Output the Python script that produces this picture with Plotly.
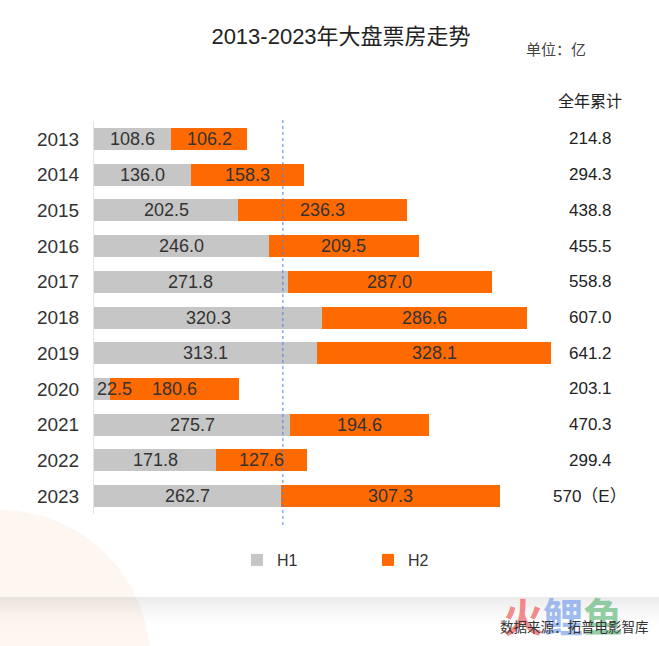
import plotly.graph_objects as go

years = ["2013", "2014", "2015", "2016", "2017", "2018", "2019", "2020", "2021", "2022", "2023"]
h1 = [108.6, 136.0, 202.5, 246.0, 271.8, 320.3, 313.1, 22.5, 275.7, 171.8, 262.7]
h2 = [106.2, 158.3, 236.3, 209.5, 287.0, 286.6, 328.1, 180.6, 194.6, 127.6, 307.3]
totals = ["214.8", "294.3", "438.8", "455.5", "558.8", "607.0", "641.2", "203.1", "470.3", "299.4", "570（E）"]
ref_line = 265

GRAY = "#c6c6c6"
ORANGE = "#ff6a00"
NUM_FONT = "Liberation Sans, Arial, Noto Sans CJK SC"
CJK_FONT = "Noto Sans CJK SC, Liberation Sans"

W, H = 659, 646
ML, MR, MT, MB = 94, 65, 121, 132
PW = W - ML - MR
PH = H - MT - MB
SCALE = 0.7127
XMAX = PW / SCALE

fig = go.Figure()
fig.add_trace(go.Bar(name="H1", y=years, x=h1, orientation="h", marker=dict(color=GRAY, line=dict(width=0)),
                     hoverinfo="x"))
fig.add_trace(go.Bar(name="H2", y=years, x=h2, orientation="h", marker=dict(color=ORANGE, line=dict(width=0)),
                     hoverinfo="x"))

def px_to_paper_x(px):
    return (px - ML) / PW

def py_to_paper_y(py):
    return (H - MB - py) / PH

annotations = []
for i, (yr, a, b, t) in enumerate(zip(years, h1, h2, totals)):
    if a < 50:
        annotations.append(dict(x=0, y=i, xref="x", yref="y", text=f"{a:.1f}", showarrow=False,
                                xanchor="left", yanchor="middle", xshift=1,
                                font=dict(size=18, color="#333", family=NUM_FONT)))
    else:
        annotations.append(dict(x=a / 2, y=i, xref="x", yref="y", text=f"{a:.1f}", showarrow=False,
                                xanchor="center", yanchor="middle",
                                font=dict(size=18, color="#333", family=NUM_FONT)))
    annotations.append(dict(x=a + b / 2, y=i, xref="x", yref="y", text=f"{b:.1f}", showarrow=False,
                            xanchor="center", yanchor="middle",
                            font=dict(size=18, color="#333", family=NUM_FONT)))
    annotations.append(dict(x=px_to_paper_x(590), y=i, xref="paper", yref="y", text=t, showarrow=False,
                            xanchor="center", yanchor="middle",
                            font=dict(size=17, color="#222", family=NUM_FONT + ", " + CJK_FONT)))

annotations.append(dict(x=px_to_paper_x(590), y=py_to_paper_y(100), xref="paper", yref="paper", text="全年累计",
                        showarrow=False, xanchor="center", yanchor="middle",
                        font=dict(size=16, color="#222", family=CJK_FONT)))
annotations.append(dict(x=px_to_paper_x(556), y=py_to_paper_y(49), xref="paper", yref="paper", text="单位：亿",
                        showarrow=False, xanchor="center", yanchor="middle",
                        font=dict(size=15, color="#444", family=CJK_FONT)))
# watermark
annotations.append(dict(x=px_to_paper_x(563), y=py_to_paper_y(615), xref="paper", yref="paper",
                        text='<b><span style="color:rgba(240,90,90,0.7)">火</span>'
                             '<span style="color:rgba(120,160,235,0.7)">鲤</span>'
                             '<span style="color:rgba(100,185,125,0.7)">鱼</span></b>',
                        showarrow=False, xanchor="center", yanchor="middle",
                        font=dict(size=40, family=CJK_FONT)))
annotations.append(dict(x=px_to_paper_x(651), y=py_to_paper_y(626), xref="paper", yref="paper",
                        text="数据来源：拓普电影智库", xanchor="right", yanchor="middle", showarrow=False,
                        font=dict(size=13.5, color="#333", family=CJK_FONT)))

shapes = []
# faint peach circle bottom-left
shapes.append(dict(type="circle", xref="paper", yref="paper", layer="below",
                   x0=px_to_paper_x(-150), x1=px_to_paper_x(150),
                   y0=py_to_paper_y(810), y1=py_to_paper_y(510),
                   fillcolor="#fdf6f1", line=dict(width=0)))
# card shadow (stacked strips)
for k in range(10):
    shapes.append(dict(type="rect", xref="paper", yref="paper", layer="below",
                       x0=px_to_paper_x(-5), x1=px_to_paper_x(W + 5),
                       y0=py_to_paper_y(597 + 3 * (k + 1)), y1=py_to_paper_y(597 + 3 * k),
                       fillcolor="rgba(0,0,0,%.3f)" % (0.075 * (1 - k / 10) ** 1.5), line=dict(width=0)))
# dashed reference line
shapes.append(dict(type="line", xref="x", yref="paper", x0=ref_line, x1=ref_line,
                   y0=py_to_paper_y(525), y1=py_to_paper_y(120),
                   line=dict(color="#4f86e0", width=1, dash="3px,3px")))

fig.update_layout(
    width=W, height=H,
    margin=dict(l=ML, r=MR, t=MT, b=MB, autoexpand=False),
    barmode="stack", bargap=0.384,
    paper_bgcolor="white", plot_bgcolor="rgba(0,0,0,0)",
    title=dict(text="2013-2023年大盘票房走势", x=341 / W, xanchor="center", xref="container",
               y=1 - 36 / H, yanchor="middle", yref="container",
               font=dict(size=22, color="#222", family=NUM_FONT + ", " + CJK_FONT)),
    xaxis=dict(range=[0, XMAX], visible=False, fixedrange=True),
    yaxis=dict(type="category", categoryorder="array", categoryarray=years,
               range=[len(years) - 0.5, -0.5], showline=True, linecolor="#e4e4e4", linewidth=1,
               showgrid=False, ticks="", ticklabelstandoff=10, fixedrange=True,
               tickfont=dict(size=19, color="#333", family=NUM_FONT)),
    legend=dict(orientation="h", xref="container", yref="container", x=237 / W, y=1 - 560 / H,
                xanchor="left", yanchor="middle", entrywidth=86, entrywidthmode="pixels",
                traceorder="normal",
                font=dict(size=16, color="#333", family=NUM_FONT), bgcolor="rgba(0,0,0,0)"),
    annotations=annotations,
    shapes=shapes,
    showlegend=True,
)

fig.write_html("out.html")
